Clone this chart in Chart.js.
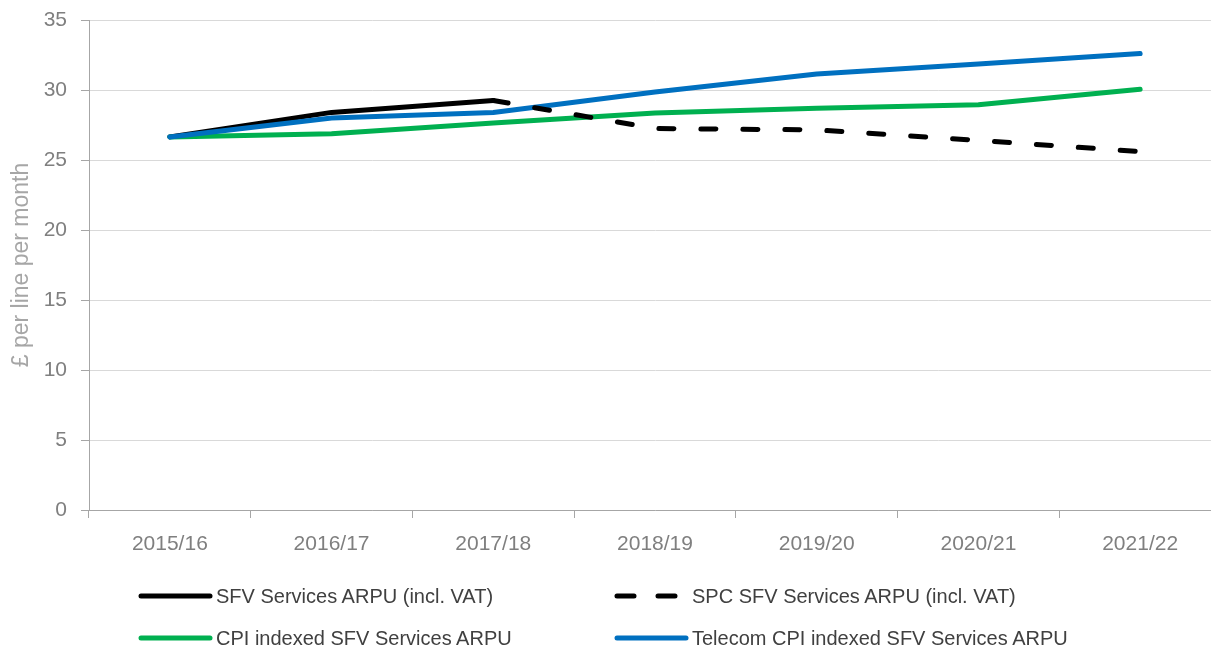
<!DOCTYPE html>
<html>
<head>
<meta charset="utf-8">
<script src="https://cdn.jsdelivr.net/npm/chart.js@4.4.1/dist/chart.umd.min.js"></script>
<style>
  html, body { margin: 0; padding: 0; overflow: hidden; background: #fff; width: 1211px; height: 653px; }
  #wrap { position: relative; width: 1221px; height: 653px; }
  #c { position: absolute; left: 0; top: 0; }
  .lg { position: absolute; font-family: "Liberation Sans", Arial, sans-serif; font-size: 20px; color: #404040; white-space: nowrap; line-height: 24px; }
  .lg svg { position: absolute; top: 0; }
</style>
</head>
<body>
<div id="wrap">
  <canvas id="c" width="1221" height="653"></canvas>
  <div id="legend"></div>
</div>
<script>
const categories = ['2015/16', '2016/17', '2017/18', '2018/19', '2019/20', '2020/21', '2021/22'];
const sfvArpu = [26.65, 28.4, 29.25, null, null, null, null];
const spcSfvArpu = [null, null, 29.25, 27.25, 27.15, 26.4, 25.6];
const cpiIndexed = [26.65, 26.88, 27.65, 28.35, 28.7, 28.95, 30.05];
const telecomCpiIndexed = [26.65, 28.0, 28.4, 29.85, 31.15, 31.85, 32.6];
const yTicks = [0, 5, 10, 15, 20, 25, 30, 35];
const seriesNames = ['SFV Services ARPU (incl. VAT)', 'SPC SFV Services ARPU (incl. VAT)', 'CPI indexed SFV Services ARPU', 'Telecom CPI indexed SFV Services ARPU'];

const base = { pointRadius: 0, pointHoverRadius: 0, borderWidth: 5, tension: 0, fill: false, borderCapStyle: 'round', borderJoinStyle: 'round', spanGaps: false };

const datasets = [
  Object.assign({}, base, { label: seriesNames[0], data: sfvArpu, borderColor: '#000000', order: 3 }),
  Object.assign({}, base, { label: seriesNames[1], data: spcSfvArpu, borderColor: '#000000', borderDash: [15, 27], order: 0 }),
  Object.assign({}, base, { label: seriesNames[2], data: cpiIndexed, borderColor: '#00b050', order: 2 }),
  Object.assign({}, base, { label: seriesNames[3], data: telecomCpiIndexed, borderColor: '#0070c0', order: 1 })
];

const FONT = '"Liberation Sans", Arial, sans-serif';

const chart = new Chart(document.getElementById('c'), {
  type: 'line',
  data: { labels: categories, datasets: datasets },
  options: {
    responsive: false,
    animation: false,
    events: [],
    layout: { padding: { top: 20, right: 0, bottom: 0, left: 0 } },
    plugins: { legend: { display: false }, tooltip: { enabled: false } },
    scales: {
      x: {
        type: 'category',
        offset: true,
        grid: { display: true, drawOnChartArea: false, drawTicks: true, offset: true, tickLength: 8, tickColor: '#a6a6a6', color: '#a6a6a6' },
        border: { display: true, color: '#a6a6a6', width: 1 },
        ticks: { color: '#7f7f7f', font: { family: FONT, size: 21 }, padding: 14, maxRotation: 0, autoSkip: false },
        afterFit: (s) => { s.height = 143; s.paddingLeft = 0; s.paddingRight = 0; }
      },
      y: {
        min: 0, max: 35,
        afterBuildTicks: (s) => { s.ticks = yTicks.map(v => ({ value: v })); },
        grid: { color: '#d9d9d9', lineWidth: 1, drawTicks: true, tickLength: 8, tickColor: '#a6a6a6' },
        border: { display: true, color: '#a6a6a6', width: 1 },
        ticks: { color: '#7f7f7f', font: { family: FONT, size: 21 }, padding: 14 },
        title: { display: true, text: '£ per line per month', color: '#a6a6a6', font: { family: FONT, size: 23 }, padding: { top: 8, bottom: 0 } },
        afterFit: (s) => { s.width = 89; s.paddingTop = 0; s.paddingBottom = 0; }
      }
    }
  }
});

// HTML legend built from the chart datasets
const legendPos = [
  { left: 138, top: 584 },
  { left: 614, top: 584 },
  { left: 138, top: 626 },
  { left: 614, top: 626 }
];
const legendEl = document.getElementById('legend');
chart.data.datasets.forEach((ds, i) => {
  const p = legendPos[i];
  const div = document.createElement('div');
  div.className = 'lg';
  div.style.left = p.left + 'px';
  div.style.top = p.top + 'px';
  div.style.paddingLeft = '78px';
  div.innerHTML = '<svg width="76" height="24" style="left:0"><line x1="3" y1="12" x2="72" y2="12" stroke="' + ds.borderColor + '" stroke-width="5" stroke-linecap="round" ' + (ds.borderDash ? 'stroke-dasharray="17 24"' : '') + '/></svg>' + ds.label;
  legendEl.appendChild(div);
});
</script>
</body>
</html>
